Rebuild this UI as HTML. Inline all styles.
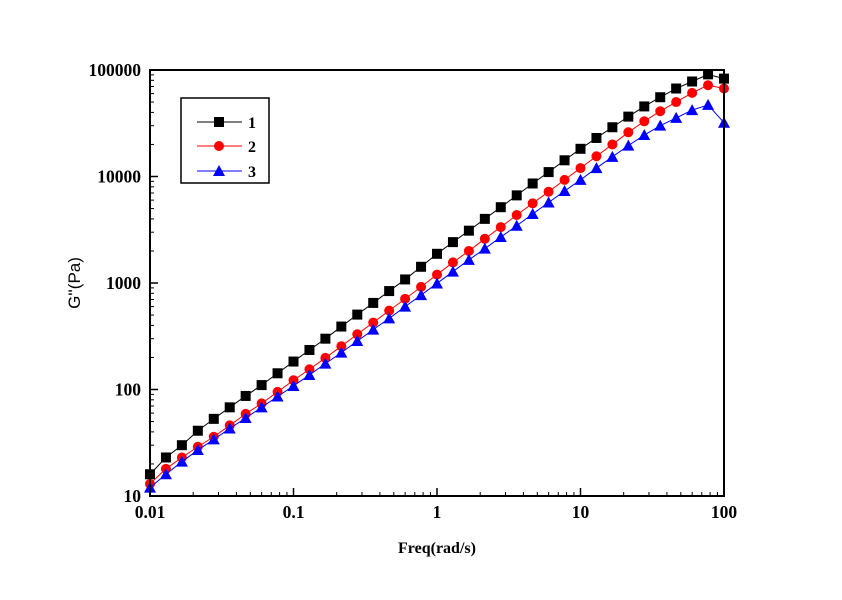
<!DOCTYPE html>
<html><head><meta charset="utf-8"><style>
body{margin:0;background:#fff}
svg text{font-family:"Liberation Serif",serif;font-weight:bold;font-size:16px}
svg text.tk{font-size:17.5px}
</style></head><body>
<svg id="chart" width="842" height="595">
<rect width="842" height="595" fill="#fff"/>
<g id="marks"></g>
<rect x="150" y="70" width="574" height="426" fill="none" stroke="#000" stroke-width="2"/>
<g id="axes"></g>
<text x="437" y="553" text-anchor="middle">Freq(rad/s)</text>
<text transform="translate(80,283) rotate(-90)" text-anchor="middle" style="font-family:'Liberation Sans',sans-serif;font-weight:normal;font-size:17px">G''(Pa)</text>
<g>
<rect x="181" y="98" width="88" height="85" fill="none" stroke="#000" stroke-width="1.5"/>
<line x1="197" y1="122" x2="242" y2="122" stroke="#000"/><rect x="214" y="117" width="10" height="10" fill="#000"/><text x="248" y="128">1</text>
<line x1="197" y1="146" x2="242" y2="146" stroke="red"/><circle cx="219" cy="146" r="5" fill="red"/><text x="248" y="152">2</text>
<line x1="197" y1="171" x2="242" y2="171" stroke="blue"/><polygon points="219,165 213,176 225,176" fill="blue"/><text x="248" y="177">3</text>
</g>
</svg>
<script>
const freqs=[];
const s1=[16,23,30,41,53,68,87,110,142,183,235,300,390,505,650,840,1080,1420,1880,2420,3100,4000,5150,6650,8600,11000,14200,18200,23000,29000,36500,45500,55500,67000,78000,91000,83000];
const s2=[13,18,23,29,36,46,59,74,95,122,155,198,255,330,425,550,710,920,1200,1560,2000,2600,3350,4350,5600,7200,9300,12000,15500,20000,26000,33000,41000,50000,61000,72000,67000];
const s3=[12,16,21,27,34,43,54,68,86,108,137,175,222,285,365,465,600,770,990,1280,1650,2100,2700,3450,4450,5700,7300,9300,12000,15300,19500,24500,30000,35500,42000,47000,32000];
const xTicks=["0.01","0.1","1","10","100"];
const yTicks=["10","100","1000","10000","100000"];
for(let i=0;i<37;i++)freqs.push(Math.pow(10,-2+i/9));
const NS="http://www.w3.org/2000/svg";
const X=v=>150+(Math.log10(v)+2)*143.5;
const Y=v=>496-(Math.log10(v)-1)*106.5;
function mk(t,a,p){const e=document.createElementNS(NS,t);for(const k in a)e.setAttribute(k,a[k]);p.appendChild(e);return e;}
const ax=document.getElementById('axes'),mg=document.getElementById('marks');
xTicks.forEach((t,i)=>{const v=+t,x=X(v);
mk('line',{x1:x,y1:496,x2:x,y2:488,stroke:'#000','stroke-width':1.5},ax);
const tx=mk('text',{x:x,y:518,'text-anchor':'middle','class':'tk'},ax);tx.textContent=t;


if(i<4)for(let m=2;m<10;m++){const xm=X(v*m);mk('line',{x1:xm,y1:496,x2:xm,y2:492,stroke:'#000'},ax);}});
yTicks.forEach((t,i)=>{const v=+t,y=Y(v);
mk('line',{x1:150,y1:y,x2:158,y2:y,stroke:'#000','stroke-width':1.5},ax);
const tx=mk('text',{x:141,y:y+6,'text-anchor':'end','class':'tk'},ax);tx.textContent=t;


if(i<4)for(let m=2;m<10;m++){const ym=Y(v*m);mk('line',{x1:150,y1:ym,x2:154,y2:ym,stroke:'#000'},ax);}});
function series(d,col,shape,name){
const g=mk('g',{},mg);


mk('polyline',{points:d.map((v,i)=>X(freqs[i])+','+Y(v)).join(' '),fill:'none',stroke:col,'stroke-width':1},g);
d.forEach((v,i)=>{const x=X(freqs[i]),y=Y(v);let e;
if(shape==='sq')e=mk('rect',{x:x-5,y:y-5,width:10,height:10,fill:col},g);
else if(shape==='c')e=mk('circle',{cx:x,cy:y,r:5,fill:col},g);
else e=mk('polygon',{points:`${x},${y-6} ${x-6},${y+5} ${x+6},${y+5}`,fill:col},g);

});}
series(s1,'#000','sq','series-1');
series(s2,'red','c','series-2');
series(s3,'blue','t','series-3');
</script>
</body></html>
